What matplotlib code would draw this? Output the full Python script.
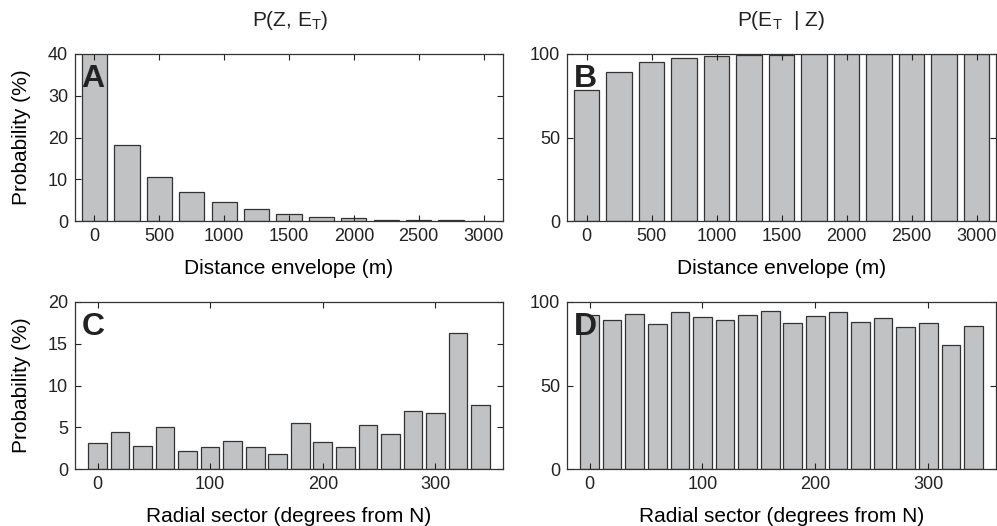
import numpy as np
import matplotlib
matplotlib.use("Agg")
import matplotlib.pyplot as plt

plt.rcParams['font.family'] = ['Liberation Sans', 'DejaVu Sans']
plt.rcParams['mathtext.fontset'] = 'custom'
plt.rcParams['mathtext.rm'] = 'Liberation Sans'

# distance envelope bins (m)
dist = [0, 250, 500, 750, 1000, 1250, 1500, 1750, 2000, 2250, 2500, 2750, 3000]
p_joint_dist = [44, 18.2, 10.5, 6.9, 4.5, 2.9, 1.7, 0.95, 0.65, 0.35, 0.25, 0.15, 0.1]
p_cond_dist = [78.3, 89.2, 95.0, 97.4, 98.8, 99.4, 99.7, 100, 100, 100, 100, 100, 100]

# radial sectors (degrees from N)
sector = [0, 20, 40, 60, 80, 100, 120, 140, 160, 180, 200, 220, 240, 260, 280, 300, 320, 340]
p_joint_sec = [3.1, 4.4, 2.7, 5.0, 2.1, 2.6, 3.4, 2.6, 1.8, 5.5, 3.2, 2.6, 5.3, 4.2, 7.0, 6.7, 16.3, 7.7]
p_cond_sec = [92.0, 89.0, 92.6, 87.0, 94.0, 91.2, 89.2, 92.4, 94.4, 87.2, 91.6, 93.8, 88.0, 90.4,
              85.2, 87.4, 74.4, 85.4]

face = '#c1c2c4'
edge = '#333333'

fig = plt.figure(figsize=(9.97, 5.26), dpi=100)
W, H = 997.0, 526.0

def make_ax(x0, y0, x1, y1):
    return fig.add_axes([x0 / W, 1 - y1 / H, (x1 - x0) / W, (y1 - y0) / H])

axA = make_ax(75, 54, 503, 221)
axB = make_ax(567, 54, 996, 221)
axC = make_ax(75, 302, 503, 469)
axD = make_ax(567, 302, 996, 469)

axA.bar(dist, p_joint_dist, width=195, color=face, edgecolor=edge, linewidth=0.9)
axB.bar(dist, p_cond_dist, width=195, color=face, edgecolor=edge, linewidth=0.9)
axC.bar(sector, p_joint_sec, width=16.5, color=face, edgecolor=edge, linewidth=0.9)
axD.bar(sector, p_cond_sec, width=16.5, color=face, edgecolor=edge, linewidth=0.9)

for ax in (axA, axB):
    ax.set_xlim(-150, 3150)
    ax.set_xticks(range(0, 3001, 500))
    ax.set_xlabel('Distance envelope (m)', fontsize=15, labelpad=10)
for ax in (axC, axD):
    ax.set_xlim(-20, 360)
    ax.set_xticks([0, 100, 200, 300])
    ax.set_xlabel('Radial sector (degrees from N)', fontsize=15, labelpad=10)

axA.set_ylim(0, 40)
axA.set_yticks([0, 10, 20, 30, 40])
axB.set_ylim(0, 100)
axB.set_yticks([0, 50, 100])
axC.set_ylim(0, 20)
axC.set_yticks([0, 5, 10, 15, 20])
axD.set_ylim(0, 100)
axD.set_yticks([0, 50, 100])

for ax in (axA, axC):
    ax.set_ylabel('Probability (%)', fontsize=15, labelpad=12)

for ax, letter in zip((axA, axB, axC, axD), 'ABCD'):
    ax.tick_params(direction='in', top=True, right=True, length=4, width=0.8,
                   labelsize=13, colors='#222222', pad=5)
    for s in ax.spines.values():
        s.set_color('#333333')
        s.set_linewidth(0.9)
    ax.text(0.015, 0.94, letter, transform=ax.transAxes, fontsize=23,
            fontweight='bold', color='#222222', va='top', ha='left')

fig.text(290 / W, 1 - 20 / H, r'P(Z, E$_\mathregular{T}$)', fontsize=15,
         ha='center', va='center', color='#222222')
fig.text(781 / W, 1 - 20 / H, r'P(E$_\mathregular{T}$  | Z)', fontsize=15,
         ha='center', va='center', color='#222222')

fig.savefig('out.png', dpi=100)
